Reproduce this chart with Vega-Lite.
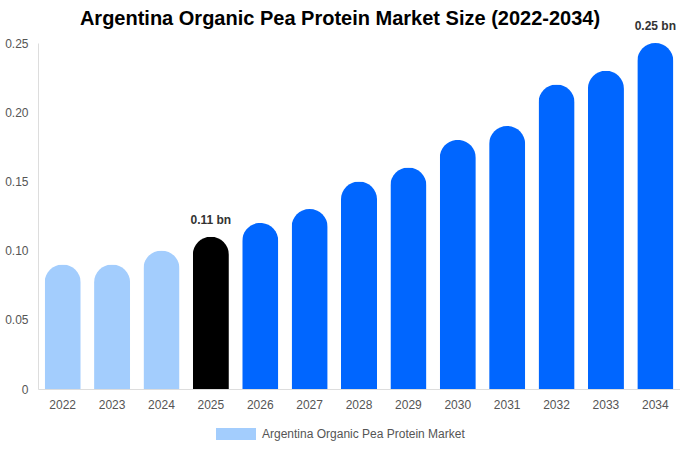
{
  "$schema": "https://vega.github.io/schema/vega-lite/v6.json",
  "width": 642,
  "height": 346,
  "autosize": "none",
  "padding": {"left": 38, "top": 43, "right": 0, "bottom": 61},
  "background": "white",
  "config": {
    "font": "Liberation Sans",
    "view": {"stroke": null}
  },
  "title": {
    "text": "Argentina Organic Pea Protein Market Size (2022-2034)",
    "fontSize": 20,
    "fontWeight": "bold",
    "color": "#000000",
    "anchor": "middle",
    "dx": -19,
    "offset": -9
  },
  "data": {
    "values": [
      {"year": "2022", "value": 0.09, "series": "Argentina Organic Pea Protein Market", "phase": "history", "label": ""},
      {"year": "2023", "value": 0.09, "series": "Argentina Organic Pea Protein Market", "phase": "history", "label": ""},
      {"year": "2024", "value": 0.10, "series": "Argentina Organic Pea Protein Market", "phase": "history", "label": ""},
      {"year": "2025", "value": 0.11, "series": "Argentina Organic Pea Protein Market", "phase": "current", "label": "0.11 bn"},
      {"year": "2026", "value": 0.12, "series": "Argentina Organic Pea Protein Market", "phase": "forecast", "label": ""},
      {"year": "2027", "value": 0.13, "series": "Argentina Organic Pea Protein Market", "phase": "forecast", "label": ""},
      {"year": "2028", "value": 0.15, "series": "Argentina Organic Pea Protein Market", "phase": "forecast", "label": ""},
      {"year": "2029", "value": 0.16, "series": "Argentina Organic Pea Protein Market", "phase": "forecast", "label": ""},
      {"year": "2030", "value": 0.18, "series": "Argentina Organic Pea Protein Market", "phase": "forecast", "label": ""},
      {"year": "2031", "value": 0.19, "series": "Argentina Organic Pea Protein Market", "phase": "forecast", "label": ""},
      {"year": "2032", "value": 0.22, "series": "Argentina Organic Pea Protein Market", "phase": "forecast", "label": ""},
      {"year": "2033", "value": 0.23, "series": "Argentina Organic Pea Protein Market", "phase": "forecast", "label": ""},
      {"year": "2034", "value": 0.25, "series": "Argentina Organic Pea Protein Market", "phase": "forecast", "label": "0.25 bn"}
    ]
  },
  "encoding": {
    "x": {
      "field": "year",
      "type": "ordinal",
      "title": null,
      "scale": {"paddingInner": 0.27, "paddingOuter": 0.135},
      "axis": {
        "labelAngle": 0,
        "labelColor": "#555555",
        "labelFontSize": 12,
        "labelPadding": 10,
        "ticks": false,
        "domainColor": "#dddddd"
      }
    },
    "y": {
      "field": "value",
      "type": "quantitative",
      "title": null,
      "scale": {"domain": [0, 0.25], "nice": false},
      "axis": {
        "values": [0, 0.05, 0.1, 0.15, 0.2, 0.25],
        "labelExpr": "datum.value == 0 ? '0' : format(datum.value, '.2f')",
        "labelColor": "#555555",
        "labelFontSize": 12,
        "labelPadding": 10,
        "ticks": false,
        "grid": false,
        "domainColor": "#dddddd"
      }
    }
  },
  "layer": [
    {
      "mark": {"type": "bar", "cornerRadiusTopLeft": 18, "cornerRadiusTopRight": 18},
      "encoding": {
        "color": {
          "field": "series",
          "type": "nominal",
          "scale": {"range": ["#a3cdfd"]},
          "condition": [
            {"test": "datum.phase == 'current'", "value": "#000000"},
            {"test": "datum.phase == 'forecast'", "value": "#0066ff"}
          ],
          "legend": {
            "title": null,
            "orient": "none",
            "legendX": 178,
            "legendY": 371,
            "symbolType": "M-1,-0.3H1V0.3H-1Z",
            "symbolSize": 1600,
            "symbolStrokeWidth": 0,
            "labelColor": "#555555",
            "labelFontSize": 12,
            "labelOffset": 6,
            "labelLimit": 0
          }
        }
      }
    },
    {
      "transform": [{"filter": "datum.label != ''"}],
      "mark": {"type": "text", "dy": -17, "fontWeight": "bold", "fontSize": 12, "color": "#333333"},
      "encoding": {
        "text": {"field": "label"}
      }
    }
  ]
}
